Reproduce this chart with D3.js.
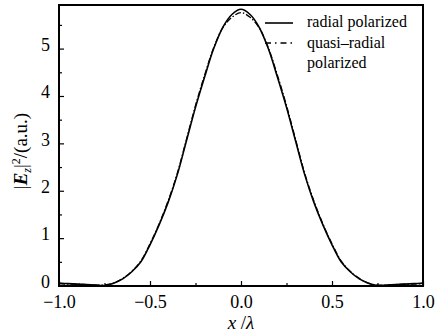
<!DOCTYPE html>
<html>
<head>
<meta charset="utf-8">
<script src="https://cdn.jsdelivr.net/npm/d3@7"></script>
<style>
  body { margin: 0; background: #fff; }
</style>
</head>
<body>
<div id="chart"></div>
<script>
// x positions (in wavelengths)
const xValues = [-1.0, -0.95, -0.9, -0.85, -0.8, -0.75, -0.7, -0.65, -0.6, -0.55, -0.5, -0.45, -0.4, -0.35, -0.3, -0.25, -0.2, -0.15, -0.1, -0.05,
  0, 0.05, 0.1, 0.15, 0.2, 0.25, 0.3, 0.35, 0.4, 0.45, 0.5, 0.55, 0.6, 0.65, 0.7, 0.75, 0.8, 0.85, 0.9, 0.95, 1.0];
const radialValues = [0.05, 0.04, 0.03, 0.02, 0.01, 0.0, 0.05, 0.14, 0.29, 0.5, 0.86, 1.28, 1.76, 2.34, 3.05, 3.76, 4.4, 5.0, 5.45, 5.72,
  5.83, 5.72, 5.45, 5.0, 4.4, 3.76, 3.05, 2.34, 1.76, 1.28, 0.86, 0.5, 0.29, 0.14, 0.05, 0.0, 0.01, 0.02, 0.03, 0.04, 0.05];
const quasiValues = [0.04, 0.03, 0.03, 0.02, 0.01, 0.01, 0.05, 0.15, 0.3, 0.52, 0.88, 1.3, 1.79, 2.37, 3.08, 3.8, 4.44, 5.02, 5.44, 5.66,
  5.76, 5.66, 5.44, 5.02, 4.44, 3.8, 3.08, 2.37, 1.79, 1.3, 0.88, 0.52, 0.3, 0.15, 0.05, 0.01, 0.01, 0.02, 0.03, 0.03, 0.04];
const xTicks = [-1.0, -0.5, 0.0, 0.5, 1.0];
const xMinorTicks = [-0.75, -0.25, 0.25, 0.75];
const yTicks = [0, 1, 2, 3, 4, 5];
const yMinorTicks = [0.5, 1.5, 2.5, 3.5, 4.5, 5.5];
const seriesNames = ["radial polarized", "quasi\u2013radial"];

const FONT = '"Liberation Serif"';
const W = 435, H = 334;
const margin = { top: 5, right: 12, bottom: 48, left: 59 };
const width = W - margin.left - margin.right,
  height = H - margin.top - margin.bottom;

const svg = d3.select("#chart").append("svg")
  .attr("width", W).attr("height", H);
const g = svg.append("g")
  .attr("transform", "translate(" + margin.left + "," + margin.top + ")");

const x = d3.scaleLinear().domain([-1, 1]).range([0, width]);
const y = d3.scaleLinear().domain([-0.01, 5.92]).range([height, 0]);

const fmt = d => d3.format(".1f")(d).replace("-", "\u2212");

// major ticks, inward
const xAxis = g.append("g").attr("transform", `translate(0,${height})`)
  .call(d3.axisBottom(x).tickValues(xTicks).tickSize(-5).tickPadding(9).tickFormat(fmt));
g.append("g").attr("transform", `translate(0,${height})`)
  .call(d3.axisBottom(x).tickValues(xMinorTicks).tickSize(-3).tickFormat(""));
const yAxis = g.append("g")
  .call(d3.axisLeft(y).tickValues(yTicks).tickSize(-5).tickPadding(9).tickFormat(d3.format("d")));
g.append("g")
  .call(d3.axisLeft(y).tickValues(yMinorTicks).tickSize(-3).tickFormat(""));

g.selectAll(".domain").remove();
g.selectAll(".tick line").attr("stroke", "#000").attr("stroke-width", 1.2);
g.selectAll(".tick text").attr("fill", "#000")
  .style("font-family", FONT).style("font-size", "18px");
xAxis.selectAll(".tick text").attr("dy", "0.71em");
yAxis.selectAll(".tick text").attr("dy", "0.1em");

// frame
g.append("rect").attr("x", 0).attr("y", 0)
  .attr("width", width).attr("height", height)
  .attr("fill", "none").attr("stroke", "#000").attr("stroke-width", 2);

const line = d3.line().curve(d3.curveCatmullRom)
  .x((d, i) => x(xValues[i])).y(d => y(d));

g.append("path").datum(quasiValues).attr("d", line)
  .attr("fill", "none").attr("stroke", "#000").attr("stroke-width", 1.3)
  .attr("stroke-dasharray", "6,2,1.5,2");
g.append("path").datum(radialValues).attr("d", line)
  .attr("fill", "none").attr("stroke", "#000").attr("stroke-width", 1.6);

// legend
const lg = g.append("g").attr("transform", "translate(206,0)");
lg.append("line").attr("x1", 0).attr("x2", 28).attr("y1", 18).attr("y2", 18)
  .attr("stroke", "#000").attr("stroke-width", 1.6);
lg.append("line").attr("x1", 0).attr("x2", 28).attr("y1", 38).attr("y2", 38)
  .attr("stroke", "#000").attr("stroke-width", 1.3).attr("stroke-dasharray", "6,4,1.5,4");
[[seriesNames[0], 22], [seriesNames[1], 43], ["polarized", 63]].forEach(([t, yy]) => {
  lg.append("text").attr("x", 42).attr("y", yy)
    .style("font-family", FONT).style("font-size", "16px").text(t);
});

// axis titles
svg.append("text").attr("x", margin.left + width / 2).attr("y", 329)
  .attr("text-anchor", "middle").style("font-family", FONT).style("font-size", "19px")
  .html('<tspan font-style="italic">x</tspan> /<tspan font-style="italic">λ</tspan>');

svg.append("text")
  .attr("transform", `translate(27,${margin.top + 146}) rotate(-90)`)
  .attr("text-anchor", "middle").style("font-family", FONT).style("font-size", "19px")
  .html('|<tspan font-style="italic" font-weight="bold">E</tspan><tspan font-style="italic" font-size="12px" dy="4">z</tspan><tspan dy="-4">|</tspan><tspan font-size="12px" dy="-7">2</tspan><tspan dy="7">/(a.u.)</tspan>');
</script>
</body>
</html>
